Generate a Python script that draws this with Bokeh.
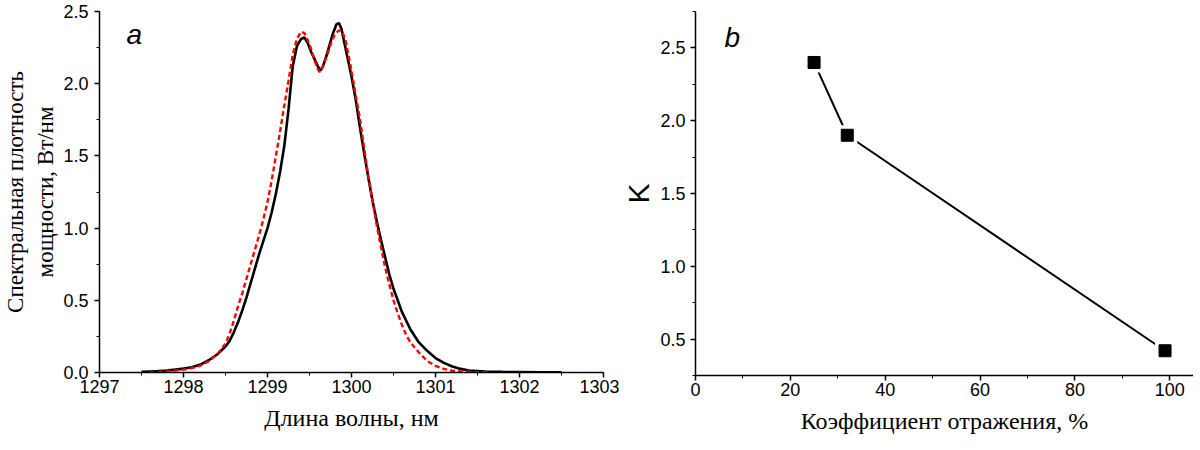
from bokeh.plotting import figure
from bokeh.layouts import row
from bokeh.models import SingleIntervalTicker, NumeralTickFormatter, Label
from bokeh.embed import file_html
from bokeh.resources import INLINE

# ---------------- data ----------------
# panel a: measured spectrum (black solid)
wl_meas = [1297.50, 1297.60, 1297.70, 1297.80, 1297.90, 1298.00, 1298.10, 1298.20,
           1298.30, 1298.40, 1298.50, 1298.55, 1298.60, 1298.65, 1298.70, 1298.75,
           1298.80, 1298.85, 1298.90, 1298.95, 1299.00, 1299.05, 1299.10, 1299.15,
           1299.20, 1299.25, 1299.30, 1299.35, 1299.40, 1299.44, 1299.48, 1299.52,
           1299.56, 1299.60, 1299.63, 1299.66, 1299.70, 1299.74, 1299.78, 1299.82,
           1299.85, 1299.88, 1299.92, 1299.96, 1300.00, 1300.05, 1300.10, 1300.15,
           1300.20, 1300.25, 1300.30, 1300.35, 1300.40, 1300.45, 1300.50, 1300.55,
           1300.60, 1300.65, 1300.70, 1300.80, 1300.90, 1301.00, 1301.10, 1301.20,
           1301.30, 1301.40, 1301.60, 1301.80, 1302.00, 1302.25, 1302.50]
psd_meas = [0.004, 0.007, 0.010, 0.014, 0.020, 0.027, 0.037, 0.055,
            0.085, 0.125, 0.18, 0.22, 0.28, 0.35, 0.43, 0.52,
            0.62, 0.72, 0.82, 0.91, 1.00, 1.11, 1.24, 1.39,
            1.57, 1.82, 2.12, 2.26, 2.31, 2.32, 2.28, 2.22,
            2.17, 2.12, 2.09, 2.12, 2.19, 2.27, 2.35, 2.41,
            2.42, 2.38, 2.27, 2.16, 2.05, 1.89, 1.70, 1.52,
            1.35, 1.19, 1.05, 0.92, 0.80, 0.68, 0.58, 0.50,
            0.42, 0.36, 0.30, 0.21, 0.15, 0.10, 0.067, 0.042,
            0.025, 0.014, 0.007, 0.004, 0.003, 0.002, 0.001]

# panel a: calculated spectrum (red dashed)
wl_calc = [1297.60, 1297.70, 1297.80, 1297.90, 1298.00, 1298.10, 1298.20, 1298.30,
           1298.40, 1298.50, 1298.55, 1298.60, 1298.65, 1298.70, 1298.75, 1298.80,
           1298.85, 1298.90, 1298.95, 1299.00, 1299.05, 1299.10, 1299.15, 1299.20,
           1299.25, 1299.30, 1299.35, 1299.40, 1299.44, 1299.48, 1299.52, 1299.56,
           1299.60, 1299.62, 1299.65, 1299.70, 1299.75, 1299.80, 1299.85, 1299.89,
           1299.93, 1299.97, 1300.00, 1300.05, 1300.10, 1300.15, 1300.20, 1300.25,
           1300.30, 1300.35, 1300.40, 1300.45, 1300.50, 1300.55, 1300.60, 1300.65,
           1300.70, 1300.80, 1300.90, 1301.00, 1301.10, 1301.20, 1301.30, 1301.45,
           1301.63]
psd_calc = [0.000, 0.004, 0.008, 0.013, 0.020, 0.030, 0.047, 0.078,
            0.125, 0.20, 0.27, 0.36, 0.46, 0.55, 0.65, 0.75,
            0.85, 0.95, 1.06, 1.18, 1.33, 1.50, 1.67, 1.85,
            2.02, 2.20, 2.31, 2.36, 2.35, 2.30, 2.24, 2.16,
            2.10, 2.08, 2.11, 2.18, 2.27, 2.34, 2.37, 2.36,
            2.30, 2.18, 2.09, 1.92, 1.76, 1.56, 1.36, 1.19,
            1.02, 0.87, 0.73, 0.61, 0.50, 0.41, 0.33, 0.26,
            0.21, 0.14, 0.08, 0.046, 0.025, 0.012, 0.007, 0.003,
            0.000]

# panel b
reflect = [25, 32, 99]
k_vals = [2.40, 1.90, 0.42]

TICK_FONT = "Liberation Sans"
TITLE_FONT = "Liberation Serif"


def style(p):
    p.outline_line_color = None
    p.xgrid.grid_line_color = None
    p.ygrid.grid_line_color = None
    p.background_fill_color = "white"
    p.border_fill_color = "white"
    for ax in (p.xaxis[0], p.yaxis[0]):
        ax.axis_line_color = "black"
        ax.axis_line_width = 1.5
        ax.major_tick_line_color = "black"
        ax.major_tick_line_width = 1.5
        ax.minor_tick_line_color = "black"
        ax.minor_tick_line_width = 1
        ax.major_tick_in = 0
        ax.major_tick_out = 5
        ax.minor_tick_in = 0
        ax.minor_tick_out = 3
        ax.major_label_text_font = TICK_FONT
        ax.major_label_text_font_size = "18px"
        ax.major_label_text_color = "black"
        ax.axis_label_text_font = TITLE_FONT
        ax.axis_label_text_font_size = "24px"
        ax.axis_label_text_font_style = "normal"
        ax.axis_label_text_color = "black"


# ---------------- panel a ----------------
p1 = figure(frame_width=504, frame_height=361,
            min_border_left=93, min_border_right=16, min_border_top=11, min_border_bottom=62,
            x_range=(1297, 1303), y_range=(0, 2.5),
            output_backend="svg", toolbar_location=None)
style(p1)
p1.xaxis[0].ticker = SingleIntervalTicker(interval=1, num_minor_ticks=2)
p1.yaxis[0].ticker = SingleIntervalTicker(interval=0.5, num_minor_ticks=2)
p1.yaxis[0].formatter = NumeralTickFormatter(format="0.0")
p1.xaxis[0].axis_label = "Длина волны, нм"
p1.yaxis[0].axis_label = "Спектральная плотность\nмощности, Вт/нм"
p1.yaxis[0].axis_label_text_font_size = "23px"
p1.xaxis[0].major_label_standoff = 2
p1.xaxis[0].axis_label_standoff = 9
p1.yaxis[0].major_label_standoff = 6
p1.yaxis[0].axis_label_standoff = 2

p1.line(wl_meas, psd_meas, line_color="black", line_width=2.6)
p1.line(wl_calc, psd_calc, line_color="#ff0000", line_width=2.4, line_dash="5 3")
p1.add_layout(Label(x=1297.32, y=2.34, text="a", text_font=TICK_FONT,
                    text_font_size="28px", text_font_style="italic",
                    text_color="black", text_baseline="alphabetic"))

# ---------------- panel b ----------------
p2 = figure(frame_width=498, frame_height=364,
            min_border_left=72, min_border_right=0, min_border_top=7, min_border_bottom=63,
            x_range=(0, 105), y_range=(0.25, 2.75),
            output_backend="svg", toolbar_location=None)
style(p2)
p2.xaxis[0].ticker = SingleIntervalTicker(interval=20, num_minor_ticks=2)
p2.yaxis[0].ticker = SingleIntervalTicker(interval=0.5, num_minor_ticks=2)
p2.yaxis[0].formatter = NumeralTickFormatter(format="0.0")
p2.xaxis[0].axis_label = "Коэффициент отражения, %"
p2.yaxis[0].axis_label = "K"
p2.yaxis[0].axis_label_text_font = TICK_FONT
p2.yaxis[0].axis_label_text_font_size = "30px"
p2.xaxis[0].major_label_standoff = 2
p2.xaxis[0].axis_label_standoff = 9
p2.yaxis[0].major_label_standoff = 5
p2.yaxis[0].axis_label_standoff = 2

p2.line(reflect, k_vals, line_color="black", line_width=2)
p2.scatter(reflect, k_vals, marker="square", size=20, fill_color="white", line_color=None)
p2.scatter(reflect, k_vals, marker="square", size=12, fill_color="black", line_color="black")
p2.add_layout(Label(x=6.1, y=2.57, text="b", text_font=TICK_FONT,
                    text_font_size="28px", text_font_style="italic",
                    text_color="black", text_baseline="alphabetic"))

layout = row(p1, p2)
open("out.html", "w").write(file_html(layout, INLINE))
